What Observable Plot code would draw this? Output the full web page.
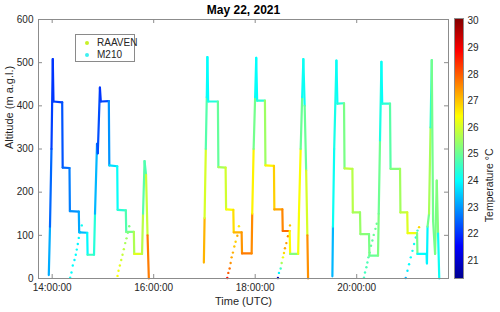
<!DOCTYPE html>
<html>
<head>
<meta charset="utf-8">
<script src="https://cdn.jsdelivr.net/npm/d3@7"></script>
<script src="https://cdn.jsdelivr.net/npm/@observablehq/plot@0.6"></script>
<style>
  body { margin: 0; background: white; }
  #wrap { position: relative; width: 500px; height: 312px; font-family: "Liberation Sans", Arial, sans-serif; color: #262626; }
  #wrap > svg { position: absolute; left: 0; top: 0; }
  #legend { position: absolute; left: 75px; top: 34px; width: 58px; height: 26px; border: 1px solid #8a8a8a; background: white; font-size: 10px; }
  #legend .item { position: absolute; left: 0; height: 12px; line-height: 12px; }
  #legend .dot { position: absolute; left: 9px; top: 4px; width: 4px; height: 4px; border-radius: 50%; }
  #legend .lab { position: absolute; left: 21px; top: 0; white-space: nowrap; }
</style>
</head>
<body>
<div id="wrap"><div id="legend"></div></div>
<script>
// ---------- data ----------
// M210 stepped profiles, three continuous tracks
const track1Time = ["13:56:00","13:57:24","13:59:10","14:00:43","14:01:32","14:11:50","14:12:25","14:20:28","14:20:56","14:31:28","14:31:56","14:41:25","14:41:53","14:49:27","14:50:38","14:53:00","14:53:56","14:56:26","14:57:30","15:06:58","15:07:33","15:16:54","15:17:22","15:27:04","15:27:32","15:36:32","15:37:00","15:46:14","15:47:24","15:49:12","15:50:58","15:52:44","15:54:17"];
const track1Alt  = [8,120,300,508,410,408,257,256,156,155,107,106,55,55,150,312,290,442,410,411,262,260,159,158,108,108,57,57,150,272,240,100,0];
const track1Temp = [23.6,22.8,22.3,22.0,22.1,22.2,22.5,22.6,22.9,23.0,23.3,23.4,24.5,24.7,24.0,22.6,22.6,22.0,22.1,22.3,23.6,23.8,24.3,24.5,25.0,25.3,26.0,26.3,25.2,24.5,25.0,26.8,28.6];

const track2Time = ["16:59:18","17:00:10","17:01:36","17:02:46","17:03:29","17:04:26","17:15:54","17:16:29","17:25:00","17:25:36","17:34:08","17:34:36","17:43:57","17:44:25","17:55:47","17:56:29","17:58:08","17:59:55","18:01:12","18:02:17","18:11:30","18:12:06","18:22:09","18:22:38","18:32:06","18:32:34","18:40:44","18:41:19","18:50:47","18:51:44","18:53:44","18:55:30","18:56:55","18:58:28","19:00:14","19:01:40","19:02:30"];
const track2Alt  = [37,140,300,420,513,410,410,258,257,160,159,107,107,58,58,150,300,420,511,412,412,262,261,160,160,110,110,57,57,150,300,420,508,400,250,100,0];
const track2Temp = [27.5,26.8,25.3,24.3,23.8,24.2,24.4,25.5,25.7,26.3,26.5,27.0,27.3,27.6,27.8,27.3,25.8,24.4,23.8,24.2,24.6,26.4,26.6,27.2,27.4,27.8,27.9,25.0,25.5,27.2,25.6,24.4,23.8,24.4,25.6,26.5,28.5];

const track3Time = ["19:31:14","19:31:55","19:33:22","19:36:00","19:37:10","19:45:00","19:45:35","19:54:54","19:55:23","20:03:54","20:04:22","20:14:32","20:15:00","20:25:11","20:26:00","20:27:32","20:29:12","20:30:08","20:39:22","20:40:00","20:51:13","20:51:41","20:59:44","21:00:12","21:11:20","21:11:48","21:22:34","21:23:02","21:23:44","21:25:30","21:27:17","21:28:43","21:30:17","21:32:38","21:34:38","21:36:10","21:37:35"];
const track3Alt  = [5,120,300,505,405,406,255,254,153,153,103,103,53,53,150,320,502,405,405,254,254,153,153,105,105,57,57,35,120,150,350,506,134,57,227,104,0];
const track3Temp = [23.0,23.6,24.6,23.8,24.3,24.5,25.8,25.9,25.6,25.6,25.3,25.3,25.0,25.0,25.4,24.7,23.8,24.3,24.5,25.2,25.3,25.8,25.9,26.3,26.3,24.0,24.0,23.8,24.0,26.2,25.0,24.0,26.2,24.0,26.3,24.2,24.0];

// RAAVEN sparse points
const raavenTime = [
  "14:21:18","14:22:50","14:24:22","14:26:23","14:27:55","14:29:06","14:30:17","14:31:28","14:33:07","14:35:01",
  "15:17:15","15:18:26","15:20:00","15:21:38","15:23:10","15:24:42","15:26:21","15:27:55","15:29:26","15:31:05",
  "17:27:01","17:28:13","17:29:46","17:30:57","17:32:08","17:33:40","17:35:19","17:36:52","17:38:53","17:40:46",
  "18:26:53","18:28:05","18:30:06","18:31:17","18:32:49","18:34:00","18:35:11","18:36:50","18:38:44","18:41:06",
  "20:08:37","20:09:48","20:11:27","20:12:38","20:13:49","20:15:21","20:16:54","20:18:33","20:20:06","20:22:08","20:23:40",
  "20:57:57","21:00:00","21:01:54","21:03:55","21:05:56","21:07:50","21:09:50","21:11:50","21:13:43"];
const raavenAlt = [
  2,14,30,43,55,67,80,94,107,123,
  6,18,30,43,55,68,82,93,106,121,
  1,13,23,36,49,60,74,85,99,121,
  1,13,23,36,49,59,70,82,98,123,
  2,14,26,37,49,60,76,88,101,115,127,
  1,18,33,49,64,80,95,111,119];
const raavenTemp = [
  24.1,24.0,24.0,23.9,24.0,24.0,23.9,24.0,24.0,24.1,
  26.4,26.3,26.2,26.0,25.9,25.8,25.6,25.5,25.3,25.2,
  28.8,28.0,27.8,27.5,27.3,27.2,27.0,26.9,27.2,26.6,
  20.7,23.9,24.6,25.6,26.3,26.8,27.3,27.4,27.6,27.0,
  24.6,24.6,24.7,24.7,24.8,24.8,24.9,24.9,25.0,25.0,25.0,
  23.3,23.8,24.0,24.0,24.1,24.1,24.2,24.5,26.8];

// axis ticks / labels
const timeTicks = ["14:00:00","16:00:00","18:00:00","20:00:00"];
const altTicks = [0,100,200,300,400,500,600];
const tempTicks = [21,22,23,24,25,26,27,28,29,30];
const timeDomain = ["13:43:50","21:48:30"];
const altDomain = [0,600];
const tempDomain = [20.33, 30.1];

// jet colormap
const jetStops = [0, 0.125, 0.375, 0.625, 0.875, 1];
const jetColors = ["#00008f","#0000ff","#00ffff","#ffff00","#ff0000","#800000"];

// ---------- build ----------
const parseT = d3.utcParse("%H:%M:%S");
const jetDomain = jetStops.map(f => tempDomain[0] + f * (tempDomain[1] - tempDomain[0]));

function segs(times, alts, temps) {
  const out = [];
  for (let i = 0; i + 1 < times.length; i++) {
    out.push({x1: parseT(times[i]), y1: alts[i], x2: parseT(times[i + 1]), y2: alts[i + 1], temp: (temps[i] + temps[i + 1]) / 2});
  }
  return out;
}
const segments = [
  ...segs(track1Time, track1Alt, track1Temp),
  ...segs(track2Time, track2Alt, track2Temp),
  ...segs(track3Time, track3Alt, track3Temp)
];
const raaven = raavenTime.map((t, i) => ({t: parseT(t), alt: raavenAlt[i], temp: raavenTemp[i]}));

const W = 500, H = 312, mL = 38, mR = 52, mT = 19, mB = 34;
const fw = W - mL - mR, fh = H - mT - mB;
const axisCol = "#8c8c8c";
const font = "Liberation Sans, Arial, sans-serif";

const main = Plot.plot({
  width: W, height: H,
  marginLeft: mL, marginRight: mR, marginTop: mT, marginBottom: mB,
  style: {fontFamily: font, fontSize: "10px", color: "#262626", background: "white"},
  x: {type: "utc", domain: timeDomain.map(parseT), ticks: timeTicks.map(parseT), tickFormat: d3.utcFormat("%H:%M:%S"), tickSize: 0, tickPadding: 5.5, label: null},
  y: {domain: altDomain, ticks: altTicks, tickSize: 0, tickPadding: 5, label: null},
  color: {type: "linear", domain: jetDomain, range: jetColors},
  marks: [
    Plot.dot(raaven, {x: "t", y: "alt", fill: "temp", r: 1.2, stroke: null}),
    Plot.link(segments, {x1: "x1", y1: "y1", x2: "x2", y2: "y2", stroke: "temp", strokeWidth: 2.2, strokeLinecap: "round"}),
    Plot.frame({stroke: axisCol}),
    Plot.ruleX(timeTicks, {x: d => parseT(d), insetTop: fh - 4, stroke: axisCol}),
    Plot.ruleX(timeTicks, {x: d => parseT(d), insetBottom: fh - 4, stroke: axisCol}),
    Plot.ruleY(altTicks, {y: d => d, insetRight: fw - 4, stroke: axisCol}),
    Plot.ruleY(altTicks, {y: d => d, insetLeft: fw - 4, stroke: axisCol}),
    Plot.text(["May 22, 2021"], {frameAnchor: "top", lineAnchor: "middle", dy: -9, fontWeight: "bold", fontSize: 12, fill: "#000"}),
    Plot.text(["Time (UTC)"], {frameAnchor: "bottom", lineAnchor: "middle", dy: 23, fontSize: 11}),
    Plot.text(["Altitude (m a.g.l.)"], {frameAnchor: "left", dx: -29, rotate: -90, fontSize: 11})
  ]
});

const cbar = Plot.plot({
  width: W, height: H,
  marginLeft: 454, marginRight: 37, marginTop: 18, marginBottom: 34,
  style: {fontFamily: font, fontSize: "10px", color: "#262626", background: "transparent"},
  y: {domain: tempDomain, ticks: tempTicks, axis: "right", tickSize: 0, tickPadding: 4, label: null},
  marks: [
    Plot.frame({fill: "url(#jetgrad)", stroke: axisCol}),
    Plot.tickY(tempTicks, {y: d => d, stroke: "none"}),
    Plot.text(["Temperature °C"], {frameAnchor: "right", dx: 26, rotate: -90, fontSize: 10.5})
  ]
});
const defs = d3.select(cbar).insert("defs", ":first-child");
const grad = defs.append("linearGradient").attr("id", "jetgrad").attr("x1", 0).attr("y1", 1).attr("x2", 0).attr("y2", 0);
jetStops.forEach((f, i) => grad.append("stop").attr("offset", f).attr("stop-color", jetColors[i]));

const wrap = document.getElementById("wrap");
wrap.insertBefore(main, wrap.firstChild);
wrap.insertBefore(cbar, document.getElementById("legend"));

// legend
const legendItems = [{name: "RAAVEN", color: "#c8f028"}, {name: "M210", color: "#3ff0f0"}];
const legend = document.getElementById("legend");
legendItems.forEach((d, i) => {
  const item = document.createElement("div");
  item.className = "item";
  item.style.top = (2 + i * 12) + "px";
  item.style.width = "100%";
  item.innerHTML = `<span class="dot" style="background:${d.color}"></span><span class="lab">${d.name}</span>`;
  legend.appendChild(item);
});
</script>
</body>
</html>
